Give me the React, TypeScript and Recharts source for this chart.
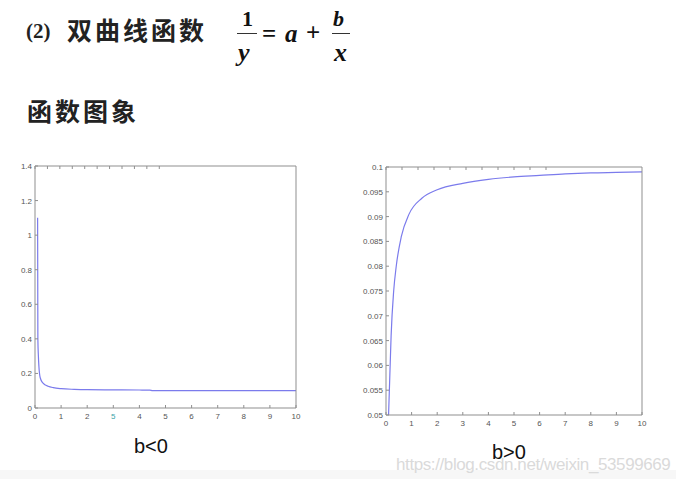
import { Line, LineChart, XAxis, YAxis } from "recharts";

// x ticks shared by both panels
const xTicks = [0, 1, 2, 3, 4, 5, 6, 7, 8, 9, 10];
const leftXTickLabels = ["0", "1", "2", "5", "4", "5", "6", "7", "8", "9", "10"];
const rightXTickLabels = ["0", "1", "2", "3", "4", "5", "6", "7", "8", "9", "10"];

// b<0 panel
const leftX = [0.1, 0.105, 0.11, 0.13, 0.15, 0.2, 0.3, 0.4, 0.5, 0.7, 1, 1.5, 2, 3, 4, 4.4, 4.5, 6, 7, 8, 9, 10];
const leftY = [1.1, 0.75, 0.4, 0.3, 0.24, 0.175, 0.145, 0.133, 0.126, 0.118, 0.112, 0.108, 0.106, 0.105, 0.104, 0.103, 0.101, 0.101, 0.1, 0.1, 0.1, 0.1];
const leftYTicks = [0, 0.2, 0.4, 0.6, 0.8, 1, 1.2, 1.4];
const leftYTickLabels = ["0", "0.2", "0.4", "0.6", "0.8", "1", "1.2", "1.4"];

// b>0 panel
const rightX = [0.1, 0.15, 0.2, 0.3, 0.4, 0.6, 0.9, 1.4, 2, 3, 4, 5, 6, 7, 8, 9, 10];
const rightY = [0.05, 0.058, 0.066, 0.075, 0.08, 0.086, 0.0905, 0.0937, 0.0954, 0.0967, 0.0975, 0.098, 0.0983, 0.0986, 0.0988, 0.0989, 0.099];
const rightYTicks = [0.05, 0.055, 0.06, 0.065, 0.07, 0.075, 0.08, 0.085, 0.09, 0.095, 0.1];
const rightYTickLabels = ["0.05", "0.055", "0.06", "0.065", "0.07", "0.075", "0.08", "0.085", "0.09", "0.095", "0.1"];

const leftData = leftX.map((x, i) => ({ x, y: leftY[i] }));
const rightData = rightX.map((x, i) => ({ x, y: rightY[i] }));

const AXIS = "#8f8f8f";
const LABEL = "#555";
const LINE = "#7b7bec";
const TICK_LEN = 3;
const tickFont = { fontFamily: "Liberation Sans, Arial, sans-serif", fontSize: 8 };

const bottomTick = (labels: string[], oddIndex = -1) => (props: any) => {
  const { x, y, index } = props;
  return (
    <g>
      <line x1={x} y1={y} x2={x} y2={y - TICK_LEN} stroke={AXIS} />
      <text x={x} y={y + 11} textAnchor="middle" fill={index === oddIndex ? "#3aa3a8" : LABEL} {...tickFont}>
        {labels[index]}
      </text>
    </g>
  );
};

const leftTick = (labels: string[]) => (props: any) => {
  const { x, y, index } = props;
  return (
    <g>
      <line x1={x} y1={y} x2={x + TICK_LEN} y2={y} stroke={AXIS} />
      <text x={x - 3} y={y + 3} textAnchor="end" fill={LABEL} {...tickFont}>
        {labels[index]}
      </text>
    </g>
  );
};

const TopTick = (props: any) => (
  <line x1={props.x} y1={props.y} x2={props.x} y2={props.y + TICK_LEN} stroke={AXIS} />
);

const RightTick = (props: any) => (
  <line x1={props.x} y1={props.y} x2={props.x - TICK_LEN} y2={props.y} stroke={AXIS} />
);

interface PanelProps {
  data: { x: number; y: number }[];
  width: number;
  height: number;
  margin: { top: number; right: number; bottom: number; left: number };
  yAxisWidth: number;
  yDomain: [number, number];
  yTicks: number[];
  yLabels: string[];
  xLabels: string[];
  oddIndex?: number;
}

function Panel({ data, width, height, margin, yAxisWidth, yDomain, yTicks, yLabels, xLabels, oddIndex }: PanelProps) {
  return (
    <LineChart width={width} height={height} data={data} margin={margin}>
      <XAxis
        dataKey="x"
        type="number"
        domain={[0, 10]}
        ticks={xTicks}
        interval={0}
        height={22}
        tickSize={0}
        tickMargin={0}
        tickLine={false}
        axisLine={{ stroke: AXIS }}
        tick={bottomTick(xLabels, oddIndex)}
      />
      <XAxis
        xAxisId="top"
        orientation="top"
        type="number"
        domain={[0, 10]}
        ticks={xTicks}
        interval={0}
        height={1}
        tickSize={0}
        tickMargin={0}
        tickLine={false}
        axisLine={{ stroke: AXIS }}
        tick={TopTick}
      />
      <YAxis
        type="number"
        domain={yDomain}
        ticks={yTicks}
        interval={0}
        width={yAxisWidth}
        tickSize={0}
        tickMargin={0}
        tickLine={false}
        axisLine={{ stroke: AXIS }}
        tick={leftTick(yLabels)}
        allowDataOverflow
      />
      <YAxis
        yAxisId="right"
        orientation="right"
        type="number"
        domain={yDomain}
        ticks={yTicks}
        interval={0}
        width={1}
        tickSize={0}
        tickMargin={0}
        tickLine={false}
        axisLine={{ stroke: AXIS }}
        tick={RightTick}
      />
      <Line
        dataKey="y"
        type="monotone"
        stroke={LINE}
        strokeWidth={1.2}
        dot={false}
        isAnimationActive={false}
      />
    </LineChart>
  );
}

const abs = (left: number, top: number): React.CSSProperties => ({
  position: "absolute",
  left,
  top,
  lineHeight: 1,
  whiteSpace: "nowrap",
});

const cjk = '"Noto Sans CJK SC", sans-serif';
const serif = '"Liberation Serif", "Times New Roman", serif';
const sans = '"Liberation Sans", Arial, sans-serif';

export default function App() {
  return (
    <div style={{ position: "absolute", left: 0, top: 0, width: 676, height: 479, background: "#fff", overflow: "hidden" }}>
      <div style={{ position: "absolute", left: 0, top: 470, width: 676, height: 9, background: "#f7f7f7" }} />

      <div style={{ ...abs(26, 21), fontFamily: serif, fontSize: 21, fontWeight: 700, color: "#222" }}>(2)</div>
      <div style={{ ...abs(67, 17), fontFamily: cjk, fontSize: 25, fontWeight: 700, letterSpacing: 3, color: "#222" }}>
        双曲线函数
      </div>

      {/* formula 1/y = a + b/x */}
      <div style={{ ...abs(242, 8), fontFamily: serif, fontSize: 22, fontWeight: 700, color: "#111" }}>1</div>
      <div style={{ position: "absolute", left: 237, top: 33, width: 20, height: 1, background: "#333" }} />
      <div style={{ ...abs(238, 40), fontFamily: serif, fontSize: 26, fontWeight: 700, fontStyle: "italic", color: "#111" }}>y</div>
      <div style={{ ...abs(262, 21), fontFamily: serif, fontSize: 25, fontWeight: 700, color: "#111" }}>=</div>
      <div style={{ ...abs(285, 21), fontFamily: serif, fontSize: 25, fontWeight: 700, fontStyle: "italic", color: "#111" }}>a</div>
      <div style={{ ...abs(306, 20), fontFamily: serif, fontSize: 25, fontWeight: 700, color: "#111" }}>+</div>
      <div style={{ ...abs(333, 8), fontFamily: serif, fontSize: 22, fontWeight: 700, fontStyle: "italic", color: "#111" }}>b</div>
      <div style={{ position: "absolute", left: 332, top: 33, width: 18, height: 1, background: "#333" }} />
      <div style={{ ...abs(334, 40), fontFamily: serif, fontSize: 26, fontWeight: 700, fontStyle: "italic", color: "#111" }}>x</div>

      <div style={{ ...abs(27, 98), fontFamily: cjk, fontSize: 25, fontWeight: 700, letterSpacing: 3, color: "#222" }}>
        函数图象
      </div>

      <div style={{ position: "absolute", left: 0, top: 150 }}>
        <Panel
          data={leftData}
          width={310}
          height={280}
          margin={{ top: 15, right: 13, bottom: 0, left: 0 }}
          yAxisWidth={35}
          yDomain={[0, 1.4]}
          yTicks={leftYTicks}
          yLabels={leftYTickLabels}
          xLabels={leftXTickLabels}
          oddIndex={3}
        />
      </div>
      <div style={{ position: "absolute", left: 350, top: 150 }}>
        <Panel
          data={rightData}
          width={310}
          height={290}
          margin={{ top: 16, right: 17, bottom: 3, left: 0 }}
          yAxisWidth={36}
          yDomain={[0.05, 0.1]}
          yTicks={rightYTicks}
          yLabels={rightYTickLabels}
          xLabels={rightXTickLabels}
        />
      </div>

      <div style={{ ...abs(134, 436), fontFamily: sans, fontSize: 20, color: "#111" }}>b&lt;0</div>
      <div style={{ ...abs(492, 442), fontFamily: sans, fontSize: 20, color: "#111" }}>b&gt;0</div>
      <div style={{ ...abs(396, 456), fontFamily: sans, fontSize: 17, color: "#dadada", letterSpacing: -0.4 }}>
        https://blog.csdn.net/weixin_53599669
      </div>
    </div>
  );
}
